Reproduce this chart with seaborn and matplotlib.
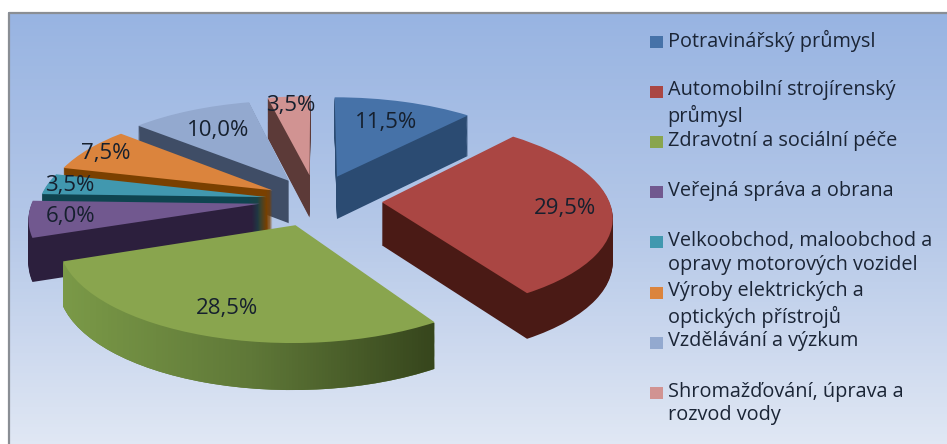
import numpy as np
import matplotlib
matplotlib.use('Agg')
import matplotlib.pyplot as plt
import seaborn as sns
from matplotlib.colors import ListedColormap
from matplotlib.patches import Rectangle
from matplotlib.path import Path
from matplotlib.transforms import Transform

categories = ['Potravinářský průmysl', 'Automobilní strojírenský\nprůmysl',
              'Zdravotní a sociální péče', 'Veřejná správa a obrana',
              'Velkoobchod, maloobchod a\nopravy motorových vozidel',
              'Výroby elektrických a\noptických přístrojů',
              'Vzdělávání a výzkum', 'Shromažďování, úprava a\nrozvod vody']
shares = [11.5, 29.5, 28.5, 6.0, 3.5, 7.5, 10.0, 3.5]

top_colors = ['#4672a8', '#aa4643', '#89a54e', '#71588f', '#4198af', '#db843d', '#93a9cf', '#d19392']
side_colors = ['#2b4b72', '#4a1a15', '#5f7838', '#2c1f3d', '#0f4450', '#7a4000', '#3f4d66', '#5c3a38']
explode = [0.27, 0.29, 0.27, 0.25, 0.22, 0.22, 0.24, 0.27]
label_dist = [0.70, 0.80, 0.78, 0.82, 0.90, 0.90, 0.70, 0.87]
# back slices first, the front ones cover them
paint_order = [0, 7, 6, 5, 4, 3, 1, 2]

sns.set_theme(style='white')
plt.rcParams['font.family'] = ['Open Sans', 'DejaVu Sans']

CX, CY, R, K, P = 316, 200, 227, 0.42, 0.13
DEPTH = 43


class Tilt(Transform):
    # lays the unit pie on a table, z is how far below the top face
    input_dims = 2
    output_dims = 2

    def __init__(self, z=0):
        super().__init__()
        self.z = z

    def transform_non_affine(self, values):
        values = np.asarray(values, dtype=float)
        s = 1 / (1 + P * values[:, 1])
        px = CX + R * values[:, 0] * s
        py = CY - R * K * values[:, 1] * s + self.z * np.sqrt(s)
        return np.column_stack([px, py])


fig = plt.figure(figsize=(9.47, 4.44), dpi=100, facecolor='white')
ax = fig.add_axes([0, 0, 1, 1])


def draw_layer(z, colors, rank_shift, **kw):
    out = ax.pie(shares, explode=explode, startangle=90, counterclock=False,
                 colors=colors, wedgeprops={'linewidth': 0}, **kw)
    tilt = Tilt(z)
    for i, wedge in enumerate(out[0]):
        wedge.set_transform(tilt + ax.transData)
        wedge.set_zorder(10 + paint_order.index(i) * 100 + rank_shift)
    return out


green_paths = []
for z in np.arange(DEPTH, 0, -1.0):
    wedges = draw_layer(z, side_colors, DEPTH - z)[0]
    green_paths.append(Tilt(z).transform_path(wedges[2].get_path()))

wedges, _, pct_labels = draw_layer(0, top_colors, 60, autopct=lambda p: f'{p:.1f}%'.replace('.', ','),
                                   pctdistance=1.0)

tilt = Tilt(0)
for i, t in enumerate(pct_labels):
    cx0, cy0 = wedges[i].center
    x0, y0 = t.get_position()
    t.set_position((cx0 + (x0 - cx0) * label_dist[i], cy0 + (y0 - cy0) * label_dist[i]))
    t.set_transform(tilt + ax.transData)
    t.set_fontsize(16)
    t.set_color('#16202e')
    t.set_zorder(2000)

ax.set_aspect('auto')
ax.axis('off')

# panel background
panel = ListedColormap(sns.blend_palette(['#98b4e2', '#b5c8e8', '#e0e7f4'], 128))
ax.imshow(np.linspace(0, 1, 128).reshape(-1, 1), cmap=panel, extent=(8, 947, 444, 13),
          aspect='auto', zorder=0)
ax.plot([8.5, 8.5, 947], [444, 13, 13], color='#8a8e94', lw=1.6, zorder=1)

# green rim gets the left to right shading
rim = ListedColormap(sns.blend_palette(['#7b9a48', '#5f7838', '#34431b'], 128))
im = ax.imshow(np.linspace(0, 1, 128).reshape(1, -1), cmap=rim, extent=(60, 445, 420, 240),
               aspect='auto', zorder=10 + paint_order.index(2) * 100 + DEPTH)
im.set_clip_path(Path.make_compound_path(*green_paths), ax.transData)
ax.set_xlim(0, 947)
ax.set_ylim(444, 0)

# legend rows: excel keeps two lines of room for every entry
for i, name in enumerate(categories):
    row = 41.6 + 50.2 * i
    ax.add_patch(Rectangle((650, row - 6), 12.5, 12, color=top_colors[i], lw=0, zorder=2000))
    ax.text(667.5, row - 11.5, name, fontsize=14.3, color='#1b2536', va='top', ha='left',
            linespacing=1.255, zorder=2000)

fig.savefig('out.png', dpi=100)
